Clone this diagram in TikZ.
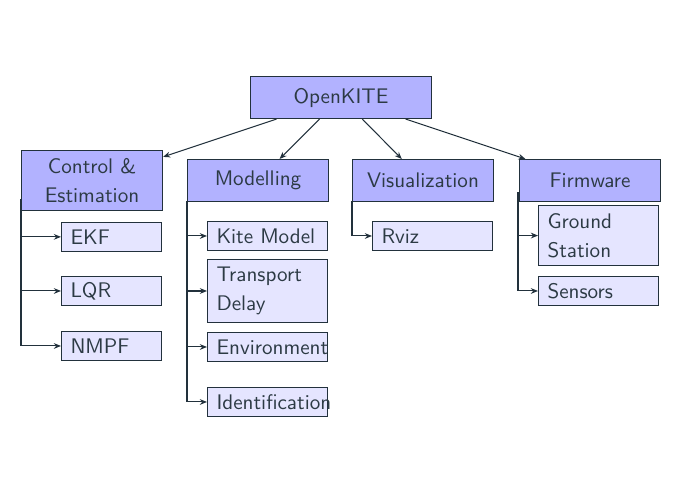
\documentclass[tikz,border=0pt]{standalone}
\usepackage{fontspec}
\usetikzlibrary{arrows.meta}
\definecolor{edgec}{RGB}{34,49,60}
\definecolor{textc}{RGB}{44,58,68}
\tikzset{
  base/.style={draw=edgec, line width=0.5pt, text=textc, anchor=north west,
    font=\sffamily\fontsize{10.3}{14.2}\selectfont, inner xsep=4.4pt, inner ysep=0pt},
  parent/.style={base, fill=blue!30, align=center, text width=60pt},
  child/.style={base, fill=blue!10, align=left, text width=49.7pt},
  smallchild/.style={child, text width=40pt},
  line/.style={draw=edgec, line width=0.5pt},
  conn/.style={line, -{Stealth[length=3.5pt,width=2.8pt]}}
}
\begin{document}
\begin{tikzpicture}[x=0.4878pt,y=-0.4878pt]
\useasboundingbox (0,0) rectangle (680,500);
% root
\node[parent, text width=79.5pt, minimum height=20.5pt] (root) at (250,76) {OpenKITE};
% parents
\node[parent, minimum height=29.3pt] (ctrl) at (21,150) {Control \&\\Estimation};
\node[parent, minimum height=20.5pt] (model) at (187,159) {Modelling};
\node[parent, minimum height=20.5pt] (vis) at (352,159) {Visualization};
\node[parent, minimum height=20.5pt] (firm) at (519,159) {Firmware};
% control children
\node[smallchild, minimum height=14pt] (ekf) at (61,222) {EKF};
\node[smallchild, minimum height=14.1pt] (lqr) at (61,276) {LQR};
\node[smallchild, minimum height=14.1pt] (nmpf) at (61,331) {NMPF};
% modelling children
\node[child, minimum height=14.1pt] (kite) at (207,221) {Kite Model};
\node[child, minimum height=30.7pt] (trans) at (207,259) {Transport\\Delay};
\node[child, minimum height=14.1pt] (env) at (207,332) {Environment};
\node[child, minimum height=14.1pt] (ident) at (207,387) {Identification};
% visualization children
\node[child, minimum height=14.1pt] (rviz) at (372,221) {Rviz};
% firmware children
\node[child, minimum height=29.3pt] (gs) at (538,205) {Ground\\Station};
\node[child, minimum height=14.1pt] (sens) at (538,276) {Sensors};
% root connectors
\draw[conn] (root) -- (ctrl);
\draw[conn] (root) -- (model);
\draw[conn] (root) -- (vis);
\draw[conn] (root) -- (firm);
% tree connectors
\coordinate (cs) at (21,199);
\coordinate (ms) at (187,201);
\coordinate (vs) at (352,201);
\coordinate (fs) at (518,192);
\draw[line] (cs) -- (cs |- nmpf.west);
\draw[conn] (cs |- ekf.west) -- (ekf.west);
\draw[conn] (cs |- lqr.west) -- (lqr.west);
\draw[conn] (cs |- nmpf.west) -- (nmpf.west);
\draw[line] (ms) -- (ms |- ident.west);
\draw[conn] (ms |- kite.west) -- (kite.west);
\draw[conn] (ms |- trans.west) -- (trans.west);
\draw[conn] (ms |- env.west) -- (env.west);
\draw[conn] (ms |- ident.west) -- (ident.west);
\draw[line] (vs) -- (vs |- rviz.west);
\draw[conn] (vs |- rviz.west) -- (rviz.west);
\draw[line] (fs) -- (fs |- sens.west);
\draw[conn] (fs |- gs.west) -- (gs.west);
\draw[conn] (fs |- sens.west) -- (sens.west);
\end{tikzpicture}
\end{document}
